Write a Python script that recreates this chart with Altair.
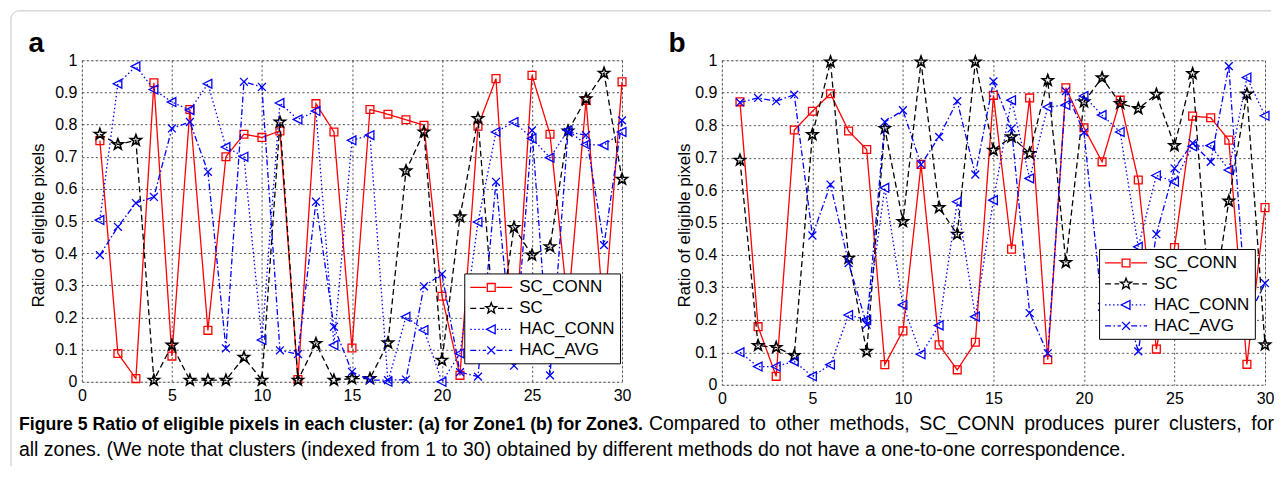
import math
import altair as alt
import pandas as pd

# ---------------- data ----------------
CLUSTERS = list(range(1, 31))
SERIES = ["SC_CONN", "SC", "HAC_CONN", "HAC_AVG"]
X_TICKS = [0, 5, 10, 15, 20, 25, 30]
Y_TICKS = [0, 0.1, 0.2, 0.3, 0.4, 0.5, 0.6, 0.7, 0.8, 0.9, 1.0]

A_SC_CONN = [0.75, 0.088, 0.01, 0.93, 0.08, 0.847, 0.16, 0.70, 0.77, 0.76,
             0.78, 0.007, 0.865, 0.777, 0.105, 0.847, 0.832, 0.815, 0.798, 0.266,
             0.02, 0.795, 0.943, 0.07, 0.953, 0.77, 0.23, 0.875, 0.2, 0.933]
A_SC = [0.77, 0.738, 0.751, 0.005, 0.114, 0.005, 0.005, 0.005, 0.076, 0.005,
        0.808, 0.005, 0.119, 0.005, 0.01, 0.01, 0.121, 0.656, 0.777, 0.067,
        0.513, 0.819, 0.1, 0.48, 0.394, 0.42, 0.78, 0.88, 0.96, 0.63]
A_HAC_CONN = [0.503, 0.927, 0.981, 0.909, 0.870, 0.845, 0.927, 0.73, 0.70, 0.13,
              0.867, 0.816, 0.842, 0.114, 0.751, 0.767, 0.0, 0.202, 0.161, 0.0,
              0.088, 0.497, 0.777, 0.808, 0.757, 0.697, 0.782, 0.738, 0.736, 0.777]
A_HAC_AVG = [0.394, 0.482, 0.556, 0.575, 0.788, 0.808, 0.653, 0.104, 0.933, 0.917,
             0.098, 0.086, 0.56, 0.171, 0.031, 0.005, 0.005, 0.007, 0.297, 0.335,
             0.03, 0.016, 0.622, 0.05, 0.782, 0.02, 0.777, 0.767, 0.425, 0.813]

B_SC_CONN = [0.872, 0.179, 0.026, 0.785, 0.843, 0.897, 0.782, 0.725, 0.062, 0.166,
             0.679, 0.123, 0.046, 0.131, 0.892, 0.418, 0.884, 0.077, 0.915, 0.792,
             0.687, 0.877, 0.631, 0.11, 0.423, 0.828, 0.823, 0.754, 0.063, 0.546]
B_SC = [0.692, 0.121, 0.115, 0.09, 0.771, 0.995, 0.39, 0.103, 0.79, 0.503,
        0.995, 0.546, 0.464, 0.995, 0.723, 0.764, 0.713, 0.938, 0.377, 0.872,
        0.946, 0.867, 0.851, 0.895, 0.737, 0.959, 0.2, 0.566, 0.896, 0.123]
B_HAC_CONN = [0.1, 0.056, 0.056, 0.072, 0.026, 0.062, 0.215, 0.2, 0.607, 0.246,
              0.094, 0.183, 0.564, 0.21, 0.569, 0.877, 0.636, 0.856, 0.862, 0.89,
              0.831, 0.779, 0.425, 0.645, 0.626, 0.735, 0.737, 0.662, 0.947, 0.829]
B_HAC_AVG = [0.87, 0.884, 0.874, 0.894, 0.46, 0.617, 0.375, 0.185, 0.81, 0.846,
             0.679, 0.764, 0.874, 0.648, 0.935, 0.79, 0.221, 0.097, 0.905, 0.778,
             0.24, 0.3, 0.103, 0.464, 0.667, 0.745, 0.687, 0.982, 0.2, 0.313]

Y_TITLE = "Ratio of eligible pixels"
CAP_BOLD = "Figure 5 Ratio of eligible pixels in each cluster: (a) for Zone1 (b) for Zone3."
CAP_NORM = "Compared to other methods, SC_CONN produces purer clusters, for"
CAP_LINE2 = ("all zones. (We note that clusters (indexed from 1 to 30) obtained by different "
             "methods do not have a one-to-one correspondence.")

# ---------------- styles ----------------
FONT = "Liberation Sans"
COLORS = ["#ff0000", "#000000", "#0000ff", "#0000ff"]
DASHES = [[1, 0], [6, 3.5], [1.5, 2.5], [6, 2.5, 1.5, 2.5]]
STROKES = [1.3, 1.6, 1.3, 1.3]
MARK_SIZE = 110
LEG_SIZE = 256           # unit = 8 px
LEG_HALF = 21.0          # half length (px) of the legend line sample
UNIT_PT, UNIT_LEG = math.sqrt(MARK_SIZE) / 2, math.sqrt(LEG_SIZE) / 2


def f(v):
    return f"{v:.3f}"


def square(s):
    a = 0.75 * s
    return f"M{f(-a)},{f(-a)}H{f(a)}V{f(a)}H{f(-a)}Z"


def star(s):
    pts = []
    for k in range(10):
        ang = math.radians(-90 + 36 * k)
        rad = (1.1 if k % 2 == 0 else 0.45) * s
        pts.append(f"{f(rad * math.cos(ang))},{f(rad * math.sin(ang))}")
    return "M" + "L".join(pts) + "Z"


def tri_left(s):
    return f"M{f(-0.9 * s)},0L{f(0.75 * s)},{f(-0.85 * s)}L{f(0.75 * s)},{f(0.85 * s)}Z"


def xmark(s):
    a = 0.75 * s
    return f"M{f(-a)},{f(-a)}L{f(a)},{f(a)}M{f(-a)},{f(a)}L{f(a)},{f(-a)}"


MARKERS = [square, star, tri_left, xmark]
MARK_R = [0.8, 1.1, 0.9, 0.8]   # marker half width in point units
SHAPES = [m(1.0) for m in MARKERS]


def segs(x0, x1, pattern):
    """dashed horizontal segments between x0 and x1 (px), returned in legend units"""
    if pattern == [1, 0]:
        return f"M{f(x0 / UNIT_LEG)},0H{f(x1 / UNIT_LEG)}"
    out, x, i = [], x0, 0
    while x < x1 - 1e-6:
        L = pattern[i % len(pattern)]
        x2 = min(x + L, x1)
        if i % 2 == 0:
            out.append(f"M{f(x / UNIT_LEG)},0H{f(x2 / UNIT_LEG)}")
        x, i = x2, i + 1
    return "".join(out)


LEG_PATHS = []
for mk, r, dash in zip(MARKERS, MARK_R, DASHES):
    rp = r * UNIT_PT + 1
    LEG_PATHS.append(segs(-LEG_HALF, -rp, dash) + segs(rp, LEG_HALF, dash)
                     + mk(UNIT_PT / UNIT_LEG))


def by_series(values):
    expr = f"'{values[-1]}'"
    for s, v in reversed(list(zip(SERIES[:-1], values[:-1]))):
        expr = f"datum.value === '{s}' ? '{v}' : ({expr})"
    return expr


# ---------- approximate Arial / Liberation Sans advance widths (per em) ----------
W_REG = dict(zip("abcdefghijklmnopqrstuvwxyz",
                 [.556, .556, .5, .556, .556, .278, .556, .556, .222, .222, .5, .222, .833,
                  .556, .556, .556, .556, .333, .5, .278, .556, .5, .722, .5, .5, .5]))
W_REG.update(dict(zip("ABCDEFGHIJKLMNOPQRSTUVWXYZ",
                      [.667, .667, .722, .722, .667, .611, .778, .722, .278, .5, .667, .556,
                       .833, .722, .778, .667, .778, .722, .667, .611, .722, .667, .944,
                       .667, .667, .611])))
W_REG.update({c: .556 for c in "0123456789"})
W_REG.update({" ": .278, ".": .278, ",": .278, ":": .278, "(": .333, ")": .333,
              "_": .556, "-": .333})


def text_w(s, size):
    return sum(W_REG.get(c, .556) for c in s) * size


# page position of panel a's plot origin (for the caption / frame marks)
OX, OY = 81, 59.5
GRAY = "#c4c4c4"
CAP_BOLD_SIZE, CAP_SIZE = 17.7, 19.5
LINE1_Y, LINE2_Y = 430, 456
CAP_LEFT, CAP_RIGHT, CAP_START2 = 18, 1275, 649


def txt(t, px, py, size, weight="normal", align="left"):
    return alt.Chart(pd.DataFrame({"t": [t]})).mark_text(
        align=align, baseline="alphabetic", font=FONT, fontSize=size, fontWeight=weight,
        color="black").encode(text="t:N", x=alt.value(px - OX), y=alt.value(py - OY))


def extras():
    one = pd.DataFrame({"k": [0]})
    layers = [txt(CAP_BOLD, CAP_LEFT, LINE1_Y, CAP_BOLD_SIZE, "bold")]
    # justified normal part of line 1
    words = CAP_NORM.split(" ")
    natural = sum(text_w(w, CAP_SIZE) for w in words)
    gap = (CAP_RIGHT - CAP_START2 - natural) / (len(words) - 1)
    xpos = CAP_START2
    for w in words:
        layers.append(txt(w, xpos, LINE1_Y, CAP_SIZE))
        xpos += text_w(w, CAP_SIZE) + gap
    layers.append(txt(CAP_LINE2, CAP_LEFT, LINE2_Y, CAP_SIZE))
    # figure frame (top-left rounded corner, radius 8 px)
    b_top = alt.Chart(one).mark_rule(color=GRAY, strokeWidth=1).encode(
        x=alt.value(18 - OX), x2=alt.value(1272 - OX), y=alt.value(10 - OY))
    b_left = alt.Chart(one).mark_rule(color=GRAY, strokeWidth=1).encode(
        x=alt.value(10 - OX), y=alt.value(18 - OY), y2=alt.value(466 - OY))
    arc_pts = []
    for k in range(9):
        a = math.radians(180 + 90 * k / 8)
        arc_pts.append(f"{f(4 + 8 * math.cos(a))},{f(4 + 8 * math.sin(a))}")
    b_arc = alt.Chart(one).mark_point(shape="M" + "L".join(arc_pts), size=4, filled=False,
                                      color=GRAY, strokeWidth=1, opacity=1).encode(
        x=alt.value(14 - OX), y=alt.value(14 - OY))
    return [b_top, b_left, b_arc] + layers


def panel(vals, w, h, label, leg_xy, ytitle_x, ytitle_y, lab_size, more):
    df = pd.DataFrame({
        "cluster": CLUSTERS * len(SERIES),
        "ratio": sum(vals, []),
        "method": [s for s in SERIES for _ in CLUSTERS],
    })
    x = alt.X("cluster:Q", scale=alt.Scale(domain=[0, 30], nice=False, zero=False),
              axis=alt.Axis(values=X_TICKS, title=None, grid=True, ticks=False, domain=False,
                            labelFont=FONT, labelFontSize=lab_size, labelColor="black",
                            labelPadding=6, gridColor="#222", gridDash=[2, 2.5],
                            gridWidth=0.8, gridOpacity=1, labelFlush=False))
    y = alt.Y("ratio:Q", scale=alt.Scale(domain=[0, 1], nice=False, zero=False),
              axis=alt.Axis(values=Y_TICKS, format=".1~f", title=Y_TITLE, grid=True,
                            ticks=False, domain=False, labelFont=FONT,
                            labelFontSize=lab_size, labelColor="black", labelPadding=5,
                            gridColor="#222", gridDash=[2, 2.5], gridWidth=0.8,
                            gridOpacity=1, labelFlush=False,
                            titleFont=FONT, titleFontSize=17, titleFontWeight="normal",
                            titleColor="black", titleX=ytitle_x, titleY=ytitle_y,
                            titleAlign="center", titleBaseline="middle", titleAngle=-90))
    sym_off = LEG_HALF - UNIT_LEG
    legend = alt.Legend(
        title=None, orient="none", legendX=leg_xy[0], legendY=leg_xy[1],
        direction="vertical", fillColor="white", strokeColor="#000", padding=5,
        labelFont=FONT, labelFontSize=17, labelColor="black",
        symbolOffset=sym_off, labelOffset=2 * LEG_HALF + 6 - 2 * UNIT_LEG - sym_off,
        rowPadding=4, symbolSize=LEG_SIZE, symbolStrokeWidth=1.3, zindex=1,
        symbolType={"expr": by_series(LEG_PATHS)},
        symbolFillColor="transparent", symbolOpacity=1, symbolDash=[1, 0],
    )
    layers = []
    for s, col, dash, shp, sw in zip(SERIES, COLORS, DASHES, SHAPES, STROKES):
        base = alt.Chart(df).transform_filter(alt.datum.method == s)
        layers.append(base.mark_line(color=col, strokeDash=dash, strokeWidth=1.3).encode(x=x, y=y))
        layers.append(base.mark_point(shape=shp, color=col, filled=False, size=MARK_SIZE,
                                      strokeWidth=sw, opacity=1).encode(x=x, y=y))
    # legend-only layer (draws nothing)
    leg_layer = alt.Chart(df).transform_filter("false").mark_point(filled=False).encode(
        x=x, y=y,
        color=alt.Color("method:N", scale=alt.Scale(domain=SERIES, range=COLORS), legend=legend))
    lbl = alt.Chart(pd.DataFrame({"t": [label]})).mark_text(
        align="left", baseline="alphabetic", font=FONT, fontSize=28, fontWeight="bold",
        color="black").encode(text="t:N", x=alt.value(-53.5), y=alt.value(-8))
    return alt.layer(*layers, leg_layer, lbl, *more).properties(width=w, height=h)


pa = panel([A_SC_CONN, A_SC, A_HAC_CONN, A_HAC_AVG], 541, 322, "a",
           (383, 213.5), -43.5, 165, 16, extras())
pb = panel([B_SC_CONN, B_SC, B_HAC_CONN, B_HAC_AVG], 544, 325, "b",
           (377.8, 189), -37, 165, 16, [])

chart = alt.hconcat(pa, pb, spacing=100, bounds="flush").resolve_scale(
    color="independent"
).resolve_legend(color="independent").properties(
    padding={"left": 0, "top": 0, "right": 0, "bottom": 0}
).configure_view(stroke="#262626", strokeWidth=1).configure(background="white")

chart.save("out.html", embed_options={"renderer": "svg", "actions": False})
